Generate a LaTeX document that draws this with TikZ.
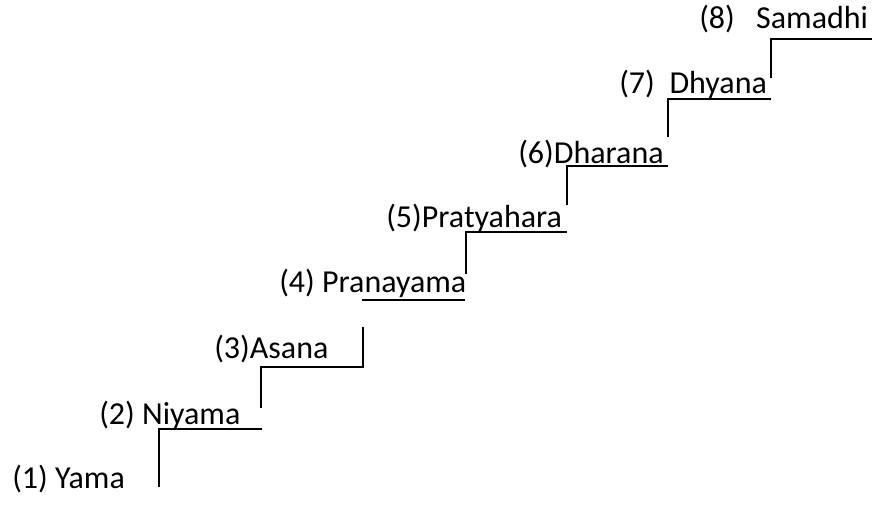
\documentclass[tikz,border=0pt]{standalone}
\usepackage{fontspec}
\setmainfont{Carlito}
\usepackage{tikz}
\usetikzlibrary{positioning}

\begin{document}
\begin{tikzpicture}[x=0.75pt, y=-0.75pt,
    limb/.style={anchor=base west, inner sep=0pt, font=\fontsize{24}{29}\selectfont},
    stair/.style={line width=1.1pt}]
    \useasboundingbox (0,0) rectangle (877,506);

    % the eight limbs, bottom to top
    \node[limb] (yama) at (12,488) {(1) Yama};
    \node[limb] (niyama) at (99,424) {(2) Niyama};
    \node[limb] (asana) at (214,358) {(3)Asana};
    \node[limb] (pranayama) at (279,292) {(4) Pranayama};
    \node[limb] (pratyahara) at (386,227) {(5)Pratyahara};
    \node[limb] (dharana) at (518,163) {(6)Dharana};
    \node[limb] (dhyana) at (619,94) {(7)\hspace{11pt}Dhyana};
    \node[limb] (samadhi) at (699,29) {(8)\hspace{16pt}Samadhi};

    % the stairs
    \draw[stair] (159,487) -- (159,429) -- (262,429);
    \draw[stair] (261,408) -- (261,367) -- (363,367) -- (363,327);
    \draw[stair] (362,300) -- (465,300);
    \draw[stair] (466,274) -- (466,232) -- (567,232);
    \draw[stair] (567,205) -- (567,166) -- (668,166);
    \draw[stair] (668,137) -- (668,99) -- (771,99);
    \draw[stair] (771,78) -- (771,39) -- (872,39);
\end{tikzpicture}
\end{document}
